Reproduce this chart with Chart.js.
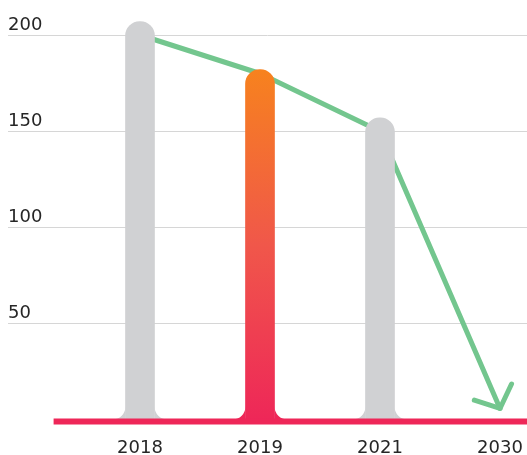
<!DOCTYPE html>
<html>
<head>
<meta charset="utf-8">
<style>
  html, body { margin: 0; padding: 0; background: #fff; }
  #wrap { width: 527px; height: 455px; position: relative; }
</style>
<script src="https://cdn.jsdelivr.net/npm/chart.js@4"></script>
</head>
<body>
<div id="wrap"><canvas id="myChart"></canvas></div>
<script>
const years = ['2018', '2019', '2021', '2030'];
const barValues = [207, 182, 157];
const trendValues = [200, 180, 150, 6];
const yTicks = [0, 50, 100, 150, 200];

const GRAY = '#d0d1d3';
const GREEN = '#73c68e';
const PINK = '#ee2758';
const ORANGE = '#f7821e';

function barColor(c) {
  if (c.dataIndex !== 1) return GRAY;
  const chart = c.chart;
  if (!chart.chartArea) return ORANGE;
  const y = chart.scales.y;
  const g = chart.ctx.createLinearGradient(0, y.getPixelForValue(barValues[1]), 0, y.getPixelForValue(0));
  g.addColorStop(0, ORANGE);
  g.addColorStop(0.5, '#f0574a');
  g.addColorStop(1, PINK);
  return g;
}

// flared bar feet, pink base line and the arrow head on the trend line
const decor = {
  id: 'decor',
  afterDatasetsDraw(chart) {
    const ctx = chart.ctx;
    const x = chart.scales.x, y = chart.scales.y;
    const r = 13;
    ctx.save();
    chart.getDatasetMeta(0).data.forEach((bar, i) => {
      const left = bar.x - bar.width / 2, right = bar.x + bar.width / 2, base = bar.base;
      ctx.fillStyle = i === 1 ? PINK : GRAY;
      ctx.beginPath();
      ctx.moveTo(left, base - r);
      ctx.lineTo(left, base);
      ctx.lineTo(left - r, base);
      ctx.arc(left - r, base - r, r, Math.PI / 2, 0, true);
      ctx.closePath();
      ctx.fill();
      ctx.beginPath();
      ctx.moveTo(right, base - r);
      ctx.lineTo(right, base);
      ctx.lineTo(right + r, base);
      ctx.arc(right + r, base - r, r, Math.PI / 2, Math.PI, false);
      ctx.closePath();
      ctx.fill();
    });

    const y0 = y.getPixelForValue(0) + 1.5;
    ctx.strokeStyle = PINK;
    ctx.lineWidth = 6;
    ctx.beginPath();
    ctx.moveTo(x.getPixelForValue(-0.72), y0);
    ctx.lineTo(chart.width, y0);
    ctx.stroke();

    const pts = chart.getDatasetMeta(1).data;
    const a = pts[pts.length - 2], b = pts[pts.length - 1];
    const ang = Math.atan2(b.y - a.y, b.x - a.x) + Math.PI;
    const len = 27, spread = 0.85;
    ctx.strokeStyle = GREEN;
    ctx.lineWidth = 5;
    ctx.lineCap = 'round';
    ctx.lineJoin = 'round';
    ctx.beginPath();
    ctx.moveTo(b.x + len * Math.cos(ang - spread), b.y + len * Math.sin(ang - spread));
    ctx.lineTo(b.x, b.y);
    ctx.lineTo(b.x + len * Math.cos(ang + spread), b.y + len * Math.sin(ang + spread));
    ctx.stroke();
    ctx.restore();
  }
};

Chart.defaults.font.family = 'DejaVu Sans';
Chart.defaults.font.size = 18;
Chart.defaults.color = '#262626';

new Chart(document.getElementById('myChart'), {
  type: 'bar',
  data: {
    datasets: [
      {
        type: 'bar',
        data: barValues.map((v, i) => ({ x: i, y: v })),
        backgroundColor: barColor,
        barThickness: 29,
        borderRadius: { topLeft: 14.5, topRight: 14.5, bottomLeft: 0, bottomRight: 0 },
        borderSkipped: 'start',
        clip: false,
        order: 1
      },
      {
        type: 'line',
        data: trendValues.map((v, i) => ({ x: i, y: v })),
        borderColor: GREEN,
        borderWidth: 5,
        pointRadius: 0,
        tension: 0,
        borderCapStyle: 'round',
        borderJoinStyle: 'round',
        clip: false,
        order: 2
      }
    ]
  },
  options: {
    responsive: true,
    maintainAspectRatio: false,
    animation: false,
    layout: { padding: { top: 35, left: 8, right: 0, bottom: 0 } },
    plugins: { legend: { display: false }, tooltip: { enabled: false } },
    scales: {
      x: {
        type: 'linear',
        min: -1.1,
        max: 3.225,
        offset: false,
        grid: { display: false, drawTicks: false },
        border: { display: false },
        afterBuildTicks: s => { s.ticks = years.map((_, i) => ({ value: i })); },
        afterFit: s => { s.height = 35; s.paddingLeft = 0; s.paddingRight = 0; },
        ticks: {
          padding: 19,
          maxRotation: 0,
          autoSkip: false,
          font: { lineHeight: 1 },
          callback: v => years[v] ?? ''
        }
      },
      y: {
        min: 0,
        max: 200,
        afterBuildTicks: s => { s.ticks = yTicks.map(v => ({ value: v })); },
        border: { display: false },
        grid: {
          drawTicks: false,
          color: c => (c.tick && c.tick.value === 0 ? 'rgba(0,0,0,0)' : '#d6d6d6')
        },
        ticks: {
          mirror: true,
          padding: 0,
          labelOffset: -10,
          callback: v => (v === 0 ? '' : v)
        }
      }
    }
  },
  plugins: [decor]
});
</script>
</body>
</html>
